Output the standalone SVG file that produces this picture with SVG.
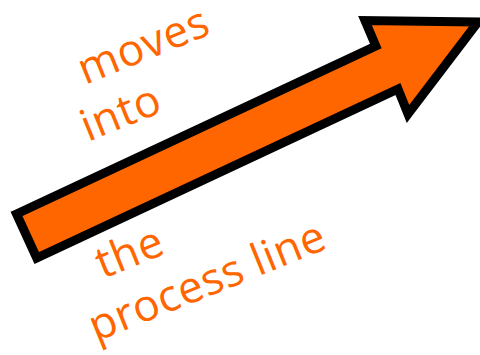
<svg xmlns="http://www.w3.org/2000/svg" width="480" height="355" viewBox="0 0 480 355">
  <style>
    .lbl { font-family: "Open Sans", "Noto Sans", sans-serif; font-size: 44px; letter-spacing: 0.6px; fill: #FF6600; }
    .arrow { fill: #FF6600; stroke: #000000; stroke-width: 9; stroke-linejoin: miter; stroke-miterlimit: 10; }
  </style>
  <rect width="480" height="355" fill="#FFFFFF"/>
  <g id="arrow">
    <polygon class="arrow" points="16.5,214 375.8,46 365,20.5 478,22 408,114 398,89 36.7,258"/>
  </g>
  <g id="labels">
    <text class="lbl" x="85" y="85" transform="rotate(-22 85 85)">moves</text>
    <text class="lbl" x="88" y="142" transform="rotate(-22 88 142)">into</text>
    <text class="lbl" x="103" y="279" transform="rotate(-22 103 279)">the</text>
    <text class="lbl" x="96" y="342" transform="rotate(-22 96 342)">process line</text>
  </g>
</svg>
